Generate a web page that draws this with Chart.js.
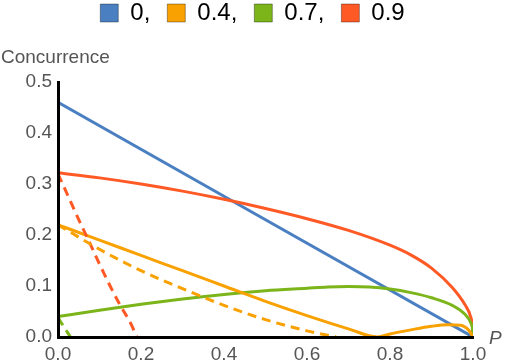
<!DOCTYPE html>
<html>
<head>
<meta charset="utf-8">
<script src="https://cdn.jsdelivr.net/npm/chart.js@4/dist/chart.umd.min.js"></script>
<style>
    html, body { margin: 0; padding: 0; background: #fff; }
    #rahmen { width: 505px; height: 363px; }
</style>
</head>
<body>
<div id="rahmen"><canvas id="concurrence"></canvas></div>
<script>
// Werte (P, Concurrence)
const blauP = [0, 1.0];
const blauC = [0.46, 0];

const orangeP = [0, 0.1, 0.2, 0.3, 0.4, 0.5, 0.6, 0.7, 0.77, 0.8, 0.85, 0.9, 0.94, 0.97, 0.99, 1.0];
const orangeC = [0.220, 0.190, 0.160, 0.130, 0.100, 0.070, 0.042, 0.016, 0, 0.006, 0.014, 0.021, 0.024, 0.023, 0.013, 0];
const orangeStrichP = [0, 0.1, 0.2, 0.3, 0.4, 0.5, 0.6, 0.67];
const orangeStrichC = [0.220, 0.172, 0.130, 0.095, 0.062, 0.034, 0.012, 0];

const gruenP = [0, 0.1, 0.2, 0.3, 0.4, 0.5, 0.6, 0.65, 0.7, 0.75, 0.8, 0.85, 0.9, 0.95, 0.98, 0.995, 0.999, 1.0];
const gruenC = [0.040, 0.0525, 0.064, 0.0745, 0.0835, 0.0905, 0.0955, 0.098, 0.099, 0.098, 0.094, 0.087, 0.077, 0.062, 0.045, 0.027, 0.014, 0];
const gruenStrichP = [0, 0.03];
const gruenStrichC = [0.038, 0];

const rotP = [0, 0.1, 0.2, 0.3, 0.4, 0.5, 0.6, 0.7, 0.8, 0.85, 0.9, 0.95, 0.98, 0.995, 0.999, 1.0];
const rotC = [0.322, 0.312, 0.300, 0.286, 0.270, 0.252, 0.232, 0.209, 0.180, 0.161, 0.135, 0.097, 0.064, 0.038, 0.018, 0];
const rotStrichP = [0, 0.025, 0.05, 0.075, 0.1, 0.125, 0.15, 0.175, 0.19];
const rotStrichC = [0.320, 0.275, 0.230, 0.187, 0.143, 0.101, 0.062, 0.027, 0];

const legendenText = ["0,", "0.4,", "0.7,", "0.9"];
const xTicks = [0, 0.2, 0.4, 0.6, 0.8, 1.0];
const yTicks = [0, 0.1, 0.2, 0.3, 0.4, 0.5];

const BLAU = "#4a7fc1";
const ORANGE = "#f9a100";
const GRUEN = "#7cb51a";
const ROT = "#ff5a26";
const GRAU = "#555555";
const SCHRIFT = '"Liberation Sans", Arial, sans-serif';

function punkte(xs, ys) {
    return xs.map((x, i) => ({ x: x, y: ys[i] }));
}

function linie(label, xs, ys, farbe, gestrichelt) {
    return {
        label: label,
        data: punkte(xs, ys),
        borderColor: farbe,
        backgroundColor: farbe,
        borderWidth: 3,
        borderDash: gestrichelt ? [9, 6] : [],
        pointRadius: 0,
        cubicInterpolationMode: "monotone",
        fill: false,
    };
}

const data = {
    datasets: [
        linie("", orangeStrichP, orangeStrichC, ORANGE, true),
        linie("", rotStrichP, rotStrichC, ROT, true),
        linie("", gruenStrichP, gruenStrichC, GRUEN, true),
        linie(legendenText[1], orangeP, orangeC, ORANGE, false),
        linie(legendenText[2], gruenP, gruenC, GRUEN, false),
        linie(legendenText[3], rotP, rotC, ROT, false),
        linie(legendenText[0], blauP, blauC, BLAU, false),
    ],
};

// Titel "Concurrence" oben links und "P" rechts neben der x-Achse
const achsenTitel = {
    id: "achsenTitel",
    afterDraw(chart) {
        const ctx = chart.ctx;
        const a = chart.chartArea;
        ctx.save();
        ctx.fillStyle = GRAU;
        ctx.textAlign = "left";
        ctx.textBaseline = "alphabetic";
        ctx.font = "19px " + SCHRIFT;
        ctx.fillText("Concurrence", 1, 63);
        ctx.font = "italic 19px " + SCHRIFT;
        ctx.textBaseline = "middle";
        ctx.fillText("P", a.right + 16, a.bottom + 2);
        ctx.restore();
    },
};

// leere Achsen, die nur Platz schaffen
function platzhalter(position, groesse) {
    return {
        type: "linear",
        position: position,
        display: true,
        grid: { display: false, drawTicks: false },
        border: { display: false },
        ticks: { display: false },
        afterFit: (scale) => {
            if (position === "top") scale.height = groesse;
            else scale.width = groesse;
        },
    };
}

new Chart(document.getElementById("concurrence"), {
    type: "line",
    data: data,
    plugins: [achsenTitel],
    options: {
        responsive: true,
        maintainAspectRatio: false,
        animation: false,
        layout: { padding: { left: 16, right: 16, top: -16, bottom: 0 } },
        plugins: {
            tooltip: { enabled: false },
            legend: {
                position: "top",
                labels: {
                    color: "#000",
                    font: { size: 24, family: SCHRIFT },
                    boxWidth: 18,
                    boxHeight: 18,
                    padding: 17,
                    filter: (item) => item.text !== "",
                    sort: (a, b) => legendenText.indexOf(a.text) - legendenText.indexOf(b.text),
                    generateLabels(chart) {
                        const standard = Chart.defaults.plugins.legend.labels.generateLabels(chart);
                        standard.forEach((l) => {
                            l.lineWidth = 1;
                            l.lineDash = [];
                            l.strokeStyle = "rgba(0,0,0,0.35)";
                        });
                        return standard;
                    },
                },
            },
        },
        scales: {
            x: {
                type: "linear",
                min: 0,
                max: 1,
                afterBuildTicks: (scale) => { scale.ticks = xTicks.map((v) => ({ value: v })); },
                afterFit: (scale) => { scale.height = 26; },
                grid: { display: false, drawTicks: false },
                border: { display: true, color: "#000", width: 3, z: 1 },
                ticks: {
                    color: GRAU,
                    padding: 6,
                    font: { size: 19, family: SCHRIFT },
                    callback: (v) => Number(v).toFixed(1),
                },
            },
            y: {
                type: "linear",
                min: 0,
                max: 0.5,
                afterBuildTicks: (scale) => { scale.ticks = yTicks.map((v) => ({ value: v })); },
                afterFit: (scale) => { scale.width = 42; },
                grid: { display: false, drawTicks: false },
                border: { display: true, color: "#000", width: 3, z: 1 },
                ticks: {
                    color: GRAU,
                    padding: 6,
                    font: { size: 19, family: SCHRIFT },
                    callback: (v) => Number(v).toFixed(1),
                },
            },
            xOben: platzhalter("top", 47),
            yRechts: platzhalter("right", 16),
        },
    },
});
</script>
</body>
</html>
